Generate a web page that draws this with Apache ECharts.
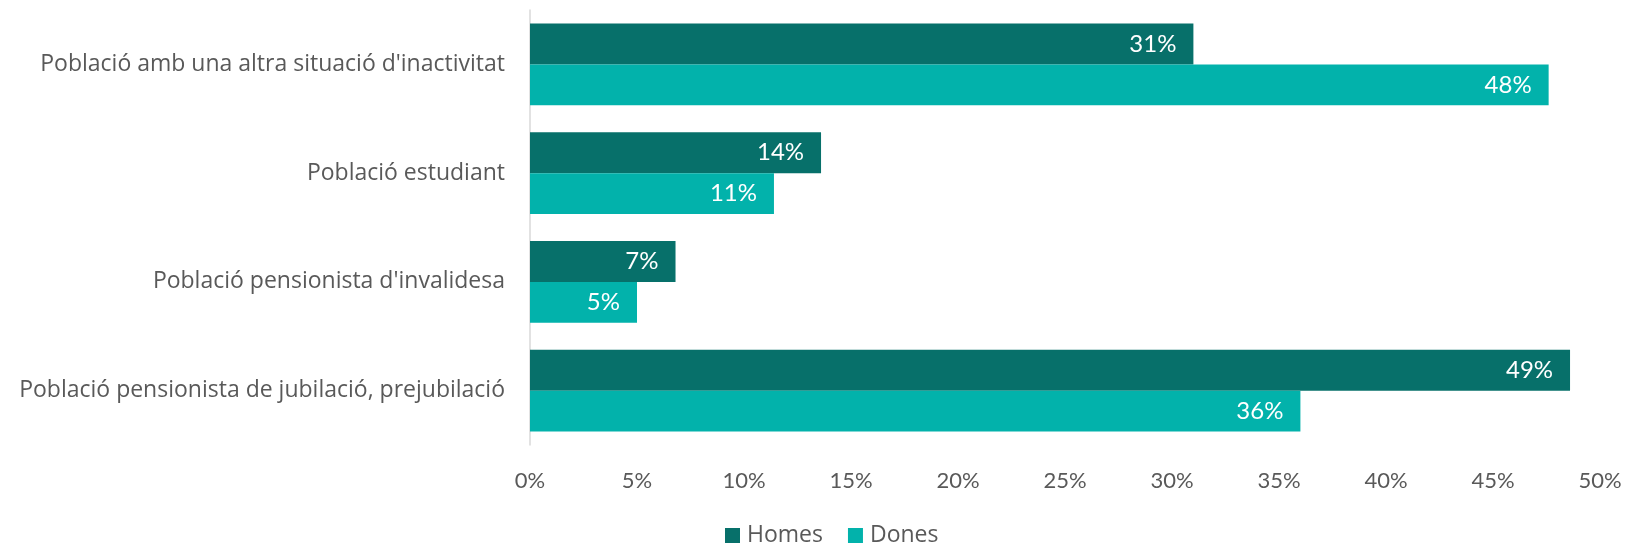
<!DOCTYPE html>
<html>
<head>
<meta charset="utf-8">
<script src="https://cdn.jsdelivr.net/npm/echarts@6/dist/echarts.min.js"></script>
<style>
  html, body { margin: 0; padding: 0; background: #fff; }
  #chart { width: 1627px; height: 548px; }
</style>
</head>
<body>
<div id="chart"></div>
<script>
// categories, top to bottom
const categories = [
  "Població amb una altra situació d'inactivitat",
  "Població estudiant",
  "Població pensionista d'invalidesa",
  "Població pensionista de jubilació, prejubilació"
];
// percentages
const homes = [31.0, 13.6, 6.8, 48.6];
const dones = [47.6, 11.4, 5.0, 36.0];
const xTicks = [0, 5, 10, 15, 20, 25, 30, 35, 40, 45, 50];

const textColor = "#595959";
const font = "Lato, 'Open Sans', sans-serif";

let chart = echarts.init(document.getElementById("chart"));

function barLabel() {
  return {
    show: true,
    position: "insideRight",
    distance: 17,
    color: "#fff",
    fontFamily: font,
    fontSize: 24,
    formatter: function (p) {
      return Math.round(p.value) + "%";
    },
  };
}

let option = {
  animation: false,
  grid: {
    left: 530,
    right: 27,
    top: 10,
    bottom: 103,
    containLabel: false,
  },
  legend: {
    left: 725,
    top: 524,
    padding: 0,
    itemWidth: 15,
    itemHeight: 15,
    itemGap: 25,
    icon: "rect",
    textStyle: { color: textColor, fontFamily: "'Open Sans', sans-serif", fontSize: 23, padding: [0, 0, 0, 2] },
    data: ["Homes", "Dones"],
  },
  xAxis: {
    type: "value",
    min: 0,
    max: 50,
    interval: 5,
    axisLine: { show: false },
    axisTick: { show: false },
    splitLine: { show: false },
    axisLabel: {
      color: textColor,
      fontFamily: font,
      fontSize: 22,
      margin: 25,
      formatter: function (v) {
        return xTicks.indexOf(v) >= 0 ? v + "%" : "";
      },
    },
  },
  yAxis: {
    type: "category",
    inverse: true,
    data: categories,
    axisLine: { show: true, lineStyle: { color: "#d9d9d9", width: 1.5 } },
    axisTick: { show: false },
    axisLabel: {
      color: textColor,
      fontFamily: "'Open Sans', sans-serif",
      fontSize: 23,
      margin: 25,
    },
  },
  series: [
    {
      name: "Homes",
      type: "bar",
      data: homes,
      barGap: "0%",
      barCategoryGap: "25%",
      itemStyle: { color: "#07706a" },
      label: barLabel(),
    },
    {
      name: "Dones",
      type: "bar",
      data: dones,
      barGap: "0%",
      barCategoryGap: "25%",
      itemStyle: { color: "#02b2ab" },
      label: barLabel(),
    },
  ],
};

chart.setOption(option);
</script>
</body>
</html>
